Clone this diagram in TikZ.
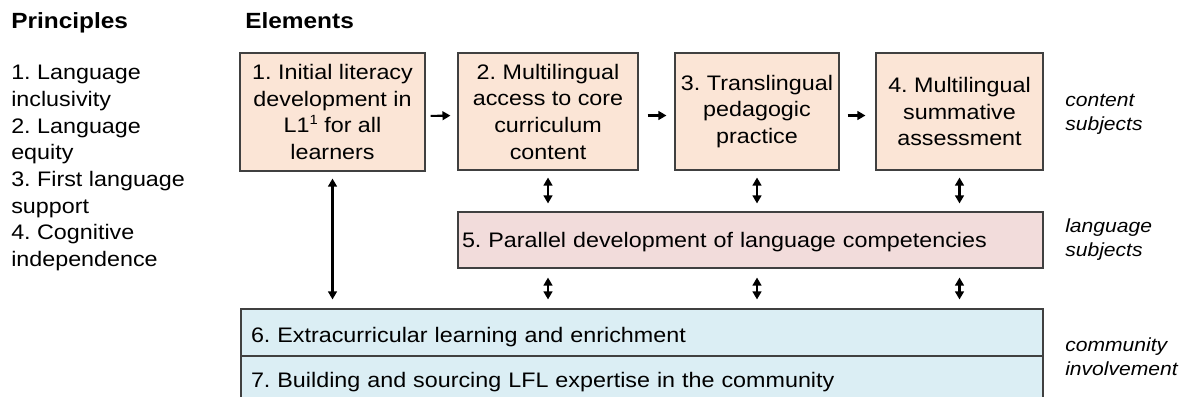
\documentclass[tikz,border=0pt]{standalone}
\usepackage{fontspec}
\setmainfont{Liberation Sans}[FakeStretch=1.11]
\usetikzlibrary{arrows.meta}
\definecolor{peach}{HTML}{FBE5D6}
\definecolor{pinkbox}{HTML}{F2DCDB}
\definecolor{bluebox}{HTML}{DBEEF4}
\definecolor{edge}{HTML}{404040}
\frenchspacing
\newcommand{\supone}{\raisebox{0.42em}{\fontsize{10pt}{10pt}\selectfont 1}}
\tikzset{
  bodyfont/.style={font=\fontsize{15.75pt}{20pt}\selectfont},
  labfont/.style={font=\fontsize{14.25pt}{18pt}\selectfont\itshape},
  cbox/.style={draw=edge, line width=0.8pt, fill=peach, bodyfont, align=center, inner sep=0pt},
  wbox/.style={draw=edge, line width=0.8pt, bodyfont, align=left, inner ysep=0pt, text depth=0pt},
  harr/.style={-{Triangle[length=6pt,width=6.5pt]}, line width=1.6pt},
  varr/.style={{Triangle[length=6pt,width=6.5pt]}-{Triangle[length=6pt,width=6.5pt]}, line width=1.6pt},
}
\begin{document}
\begin{tikzpicture}[x=0.75pt,y=-0.75pt]
\clip (0,0) rectangle (1187,396);
\fill[white] (0,0) rectangle (1187,396);

% headings
\node[font=\fontsize{16.5pt}{20pt}\selectfont\bfseries, anchor=base west, inner sep=0pt] (hp) at (11,28) {Principles};
\node[font=\fontsize{16.5pt}{20pt}\selectfont\bfseries, anchor=base west, inner sep=0pt] (he) at (245,28) {Elements};

% principles list
\node[bodyfont, align=left, anchor=north west, inner sep=0pt] (plist) at (11,65)
  {1. Language\\inclusivity\\2. Language\\equity\\3. First language\\support\\4. Cognitive\\independence};

% content boxes
\node[cbox, minimum width=138.75pt, minimum height=88.5pt] (b1) at (332.5,112)
  {1. Initial literacy\\development in\\L1\supone{} for all\\learners};
\node[cbox, minimum width=135pt, minimum height=87.75pt] (b2) at (548,111.5)
  {2. Multilingual\\access to core\\curriculum\\content};
\node[cbox, minimum width=123pt, minimum height=87.75pt] (b3) at (757,111.5)
  {3. Translingual\\pedagogic\\practice};
\node[cbox, minimum width=125.25pt, minimum height=87.75pt] (b4) at (959.5,111.5)
  {4. Multilingual\\summative\\assessment};

% language box
\node[wbox, fill=pinkbox, minimum width=438.75pt, minimum height=42pt, text width=432.75pt, inner xsep=3pt, text height=10.5pt] (b5) at (750.5,240)
  {5. Parallel development of language competencies};

% community boxes
\node[wbox, fill=bluebox, minimum width=601.5pt, minimum height=35.25pt, text width=586.5pt, inner xsep=7.5pt, text height=14.25pt] (b6) at (642,332.5)
  {6. Extracurricular learning and enrichment};
\node[wbox, fill=bluebox, minimum width=601.5pt, minimum height=33pt, text width=586.5pt, inner xsep=7.5pt, text height=13.5pt] (b7) at (642,378)
  {7. Building and sourcing LFL expertise in the community};

% side labels
\node[labfont, align=left, anchor=west, inner sep=0pt] (l1) at (1065,114) {content\\subjects};
\node[labfont, align=left, anchor=west, inner sep=0pt] (l2) at (1065,240) {language\\subjects};
\node[labfont, align=left, anchor=west, inner sep=0pt] (l3) at (1065,357) {community\\involvement};

% horizontal arrows
\draw[harr, shorten <=3.75pt, shorten >=5.25pt] ([yshift=-3pt]b1.east) -- ([yshift=-3pt]b2.west);
\draw[harr, shorten <=6.75pt, shorten >=6pt] ([yshift=-3pt]b2.east) -- ([yshift=-3pt]b3.west);
\draw[harr, shorten <=6pt, shorten >=7.5pt] ([yshift=-3pt]b3.east) -- ([yshift=-3pt]b4.west);

% vertical double arrows
\foreach \b in {b2,b3,b4}{
  \draw[varr, shorten <=5.25pt, shorten >=6pt] (\b.south) -- (\b.south |- b5.north);
  \draw[varr, shorten <=6.75pt, shorten >=6.75pt] (\b.south |- b5.south) -- (\b.south |- b6.north);
}
\draw[varr, shorten <=5.25pt, shorten >=6.75pt] (b1.south) -- (b1.south |- b6.north);
\end{tikzpicture}
\end{document}
